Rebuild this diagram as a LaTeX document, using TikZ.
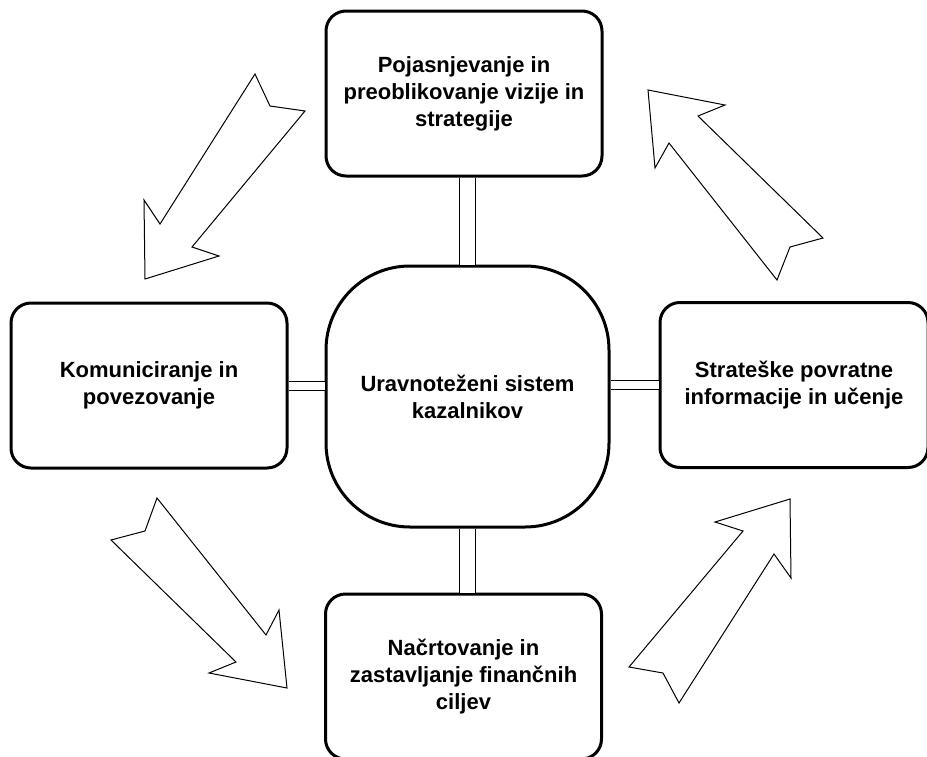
\documentclass[tikz,border=0pt]{standalone}
\usepackage{fontspec}
\setmainfont{Liberation Sans}
\usetikzlibrary{positioning}

\begin{document}
\begin{tikzpicture}[
  x=0.5pt, y=-0.5pt,
  box/.style={
    draw=black, fill=white, line width=1.5pt,
    rounded corners=10pt,
    minimum width=138pt, minimum height=82.5pt,
    align=center, font=\bfseries\fontsize{11}{13.5}\selectfont},
  hub/.style={
    box, rounded corners=42pt,
    minimum width=141.5pt, minimum height=130.5pt},
  vlink/.style={draw=black, line width=0.5pt, double=white, double distance=7.5pt},
  hlink/.style={vlink, double distance=4pt},
  blockarr/.style={draw=black, fill=white, line width=0.5pt, line join=miter},
]
  \useasboundingbox (0,0) rectangle (927,756);

  \draw[blockarr] (255,74) -- (270,106) -- (305,111) -- (192,247) -- (219,256) -- (145,279) -- (144,200) -- (160,224) -- cycle;
  \draw[blockarr] (777,280) -- (790,247) -- (823,238) -- (698,116) -- (725,105) -- (648,90) -- (655,168) -- (669,143) -- cycle;
  \draw[blockarr] (157,498) -- (145,531) -- (111,540) -- (236,662) -- (209,673) -- (287,688) -- (279,610) -- (266,635) -- cycle;
  \draw[blockarr] (679,703) -- (663,673) -- (629,667) -- (743,531) -- (715,522) -- (790,499) -- (791,578) -- (774,554) -- cycle;

  \node[box] (vizija) at (464,93.5)  {Pojasnjevanje in\\preoblikovanje vizije in\\strategije};
  \node[box] (komun)  at (149,385.5) {Komuniciranje in\\povezovanje};
  \node[box, minimum width=134pt] (ucenje) at (794,385) {Strateške povratne\\informacije in učenje};
  \node[box] (cilji)  at (463.5,676.5) {Načrtovanje in\\zastavljanje finančnih\\ciljev};
  \node[hub] (sistem) at (467.5,396.5) {Uravnoteženi sistem\\kazalnikov};

  \draw[vlink] (sistem.north) -- (sistem.north |- vizija.south);
  \draw[vlink] (sistem.south) -- (sistem.south |- cilji.north);
  \draw[hlink] (komun.east) -- (komun.east -| sistem.west);
  \draw[hlink] (ucenje.west) -- (ucenje.west -| sistem.east);
\end{tikzpicture}
\end{document}
